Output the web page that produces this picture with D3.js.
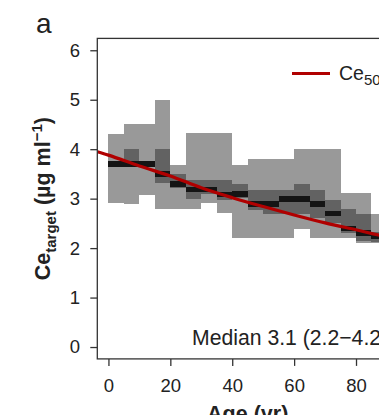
<!DOCTYPE html>
<html>
<head>
<meta charset="utf-8">
<title>Ce target by age</title>
<script src="https://d3js.org/d3.v7.min.js"></script>
<style>
  body { margin: 0; background: #fff; }
  svg { display: block; font-family: "Liberation Sans", Arial, Helvetica, sans-serif; }
</style>
</head>
<body>
<script>
// 5-year age bins
const binStart = [0, 5, 10, 15, 20, 25, 30, 35, 40, 45, 50, 55, 60, 65, 70, 75, 80, 85]
const binEnd   = [5, 10, 15, 20, 25, 30, 35, 40, 45, 50, 55, 60, 65, 70, 75, 80, 85, 90]

// outer range (light grey)
const outerLo = [2.91, 2.89, 3.08, 2.80, 2.80, 2.80, 2.91, 2.70, 2.20, 2.20, 2.20, 2.20, 2.39, 2.21, 2.21, 2.21, 2.10, 2.10]
const outerHi = [4.30, 4.51, 4.51, 4.99, 3.69, 4.32, 4.32, 4.32, 3.69, 3.80, 3.80, 3.80, 4.00, 4.00, 4.00, 3.11, 3.11, 2.68]
// inner range (dark grey)
const midLo = [3.64, 3.64, 3.64, 3.31, 3.22, 2.99, 3.10, 2.97, 3.02, 2.77, 2.68, 2.68, 2.68, 2.60, 2.50, 2.30, 2.15, 2.13]
const midHi = [3.76, 4.00, 3.76, 4.00, 3.49, 3.38, 3.38, 3.38, 3.30, 3.17, 3.17, 3.17, 3.29, 3.17, 2.97, 2.80, 2.68, 2.33]
// median band (black)
const medLo = [3.64, 3.64, 3.64, 3.44, 3.24, 3.14, 3.14, 3.04, 3.04, 2.84, 2.84, 2.94, 2.94, 2.84, 2.64, 2.35, 2.25, 2.19]
const medHi = [3.76, 3.76, 3.76, 3.56, 3.36, 3.24, 3.24, 3.14, 3.15, 2.95, 2.95, 3.06, 3.06, 2.95, 2.75, 2.45, 2.37, 2.29]

// Ce50 model curve
const curveAge = [-3.6, 0, 10, 20, 30, 40, 50, 60, 70, 80, 90, 93.6]
const curveCe  = [3.95, 3.88, 3.66, 3.46, 3.22, 3.02, 2.84, 2.67, 2.51, 2.37, 2.23, 2.19]

const xTicks = [0, 20, 40, 60, 80]
const yTicks = [0, 1, 2, 3, 4, 5, 6]

const W = 379, H = 415
const plot = {left: 97.3, right: 398.1, top: 38.4, bottom: 358.9}

const x = d3.scaleLinear().domain([-3.6, 93.6]).range([plot.left, plot.right])
const y = d3.scaleLinear().domain([-0.24, 6.24]).range([plot.bottom, plot.top])

const svg = d3.select("body").append("svg")
  .attr("width", W)
  .attr("height", H)

svg.append("clipPath").attr("id", "plotclip")
  .append("rect")
  .attr("x", plot.left).attr("y", plot.top)
  .attr("width", plot.right - plot.left).attr("height", plot.bottom - plot.top)

const g = svg.append("g").attr("clip-path", "url(#plotclip)")

const bins = binStart.map((s, i) => ({s: s, e: binEnd[i]}))

const bands = [
  {lo: outerLo, hi: outerHi, fill: "#999999"},
  {lo: midLo, hi: midHi, fill: "#626262"},
  {lo: medLo, hi: medHi, fill: "#141414"}
]

bands.forEach(b => {
  g.append("g").selectAll("rect")
    .data(bins)
    .enter()
      .append("rect")
      .attr("x", d => x(d.s))
      .attr("width", d => x(d.e) - x(d.s))
      .attr("y", (d, i) => y(b.hi[i]))
      .attr("height", (d, i) => y(b.lo[i]) - y(b.hi[i]))
      .attr("fill", b.fill)
      .attr("shape-rendering", "crispEdges")
})

const line = d3.line()
  .x(d => x(d[0]))
  .y(d => y(d[1]))
  .curve(d3.curveMonotoneX)

g.append("path")
  .datum(curveAge.map((a, i) => [a, curveCe[i]]))
  .attr("d", line)
  .attr("fill", "none")
  .attr("stroke", "#b00000")
  .attr("stroke-width", 3.2)

// frame
svg.append("rect")
  .attr("x", plot.left).attr("y", plot.top)
  .attr("width", plot.right - plot.left).attr("height", plot.bottom - plot.top)
  .attr("fill", "none")
  .attr("stroke", "#333")
  .attr("stroke-width", 1.3)

// axes
const yAxis = svg.append("g")
  .attr("transform", `translate(${plot.left},0)`)
  .call(d3.axisLeft(y).tickValues(yTicks).tickFormat(d3.format("d"))
    .tickSize(7).tickPadding(10.3).tickSizeOuter(0))
yAxis.select(".domain").remove()

const xAxis = svg.append("g")
  .attr("transform", `translate(0,${plot.bottom})`)
  .call(d3.axisBottom(x).tickValues(xTicks).tickFormat(d3.format("d"))
    .tickSize(7).tickPadding(12.5).tickSizeOuter(0))
xAxis.select(".domain").remove()

svg.selectAll(".tick line").attr("stroke", "#333").attr("stroke-width", 1.3)
svg.selectAll(".tick text")
  .attr("font-size", 18.5)
  .attr("font-family", "Liberation Sans, Arial, sans-serif")
  .attr("fill", "#222")

// y title
const yt = svg.append("text")
  .attr("transform", `translate(50,${(plot.top + plot.bottom) / 2}) rotate(-90)`)
  .attr("text-anchor", "middle")
  .attr("font-weight", "bold")
  .attr("font-size", 21.5)
  .attr("fill", "#222")
yt.append("tspan").text("Ce")
yt.append("tspan").attr("font-size", 15).attr("dy", 6).text("target")
yt.append("tspan").attr("dy", -6).text(" (µg ml")
yt.append("tspan").attr("font-size", 15).attr("dy", -8).text("−1")
yt.append("tspan").attr("dy", 8).text(")")

// x title
svg.append("text")
  .attr("x", (plot.left + plot.right) / 2)
  .attr("y", 420.5)
  .attr("text-anchor", "middle")
  .attr("font-weight", "bold")
  .attr("font-size", 21.5)
  .attr("fill", "#222")
  .text("Age (yr)")

// panel letter
svg.append("text")
  .attr("x", 36).attr("y", 33)
  .attr("font-size", 28)
  .attr("fill", "#222")
  .text("a")

// legend
svg.append("line")
  .attr("x1", 292).attr("x2", 330)
  .attr("y1", 73.5).attr("y2", 73.5)
  .attr("stroke", "#b00000")
  .attr("stroke-width", 3.2)

const lt = svg.append("text")
  .attr("x", 339).attr("y", 80)
  .attr("font-size", 19.5)
  .attr("fill", "#222")
lt.append("tspan").text("Ce")
lt.append("tspan").attr("font-size", 15).attr("dy", 5).text("50")

// median annotation
svg.append("text")
  .attr("x", 192).attr("y", 345)
  .attr("font-size", 21.2)
  .attr("fill", "#222")
  .text("Median 3.1 (2.2−4.2)")
</script>
</body>
</html>
